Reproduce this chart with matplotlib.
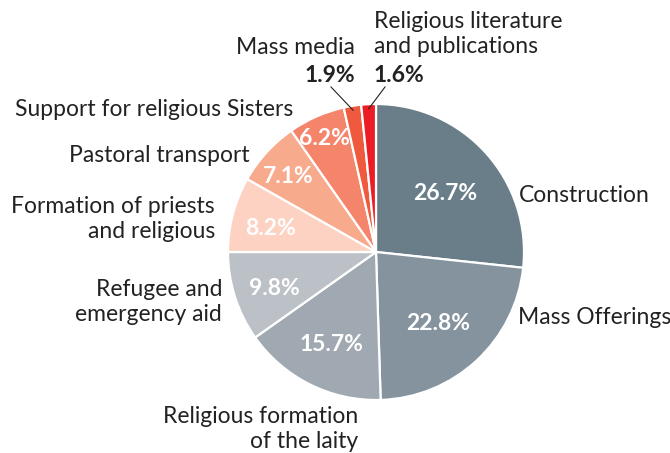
import matplotlib
matplotlib.use("Agg")
import numpy as np
from matplotlib import pyplot as plt

categories = ["Construction", "Mass Offerings", "Religious formation\nof the laity",
              "Refugee and\nemergency aid", "Formation of priests\nand religious",
              "Pastoral transport", "Support for religious Sisters", "Mass media",
              "Religious literature\nand publications"]
shares = [26.7, 22.8, 15.7, 9.8, 8.2, 7.1, 6.2, 1.9, 1.6]
colors = ["#6a7e8a", "#84939e", "#a0a9b1", "#bcc1c7", "#fdd2c2",
          "#f8aa8d", "#f4846a", "#ef5a3e", "#ec1c24"]

plt.rcParams['font.family'] = ['Lato', 'DejaVu Sans']

W, H = 670, 453
fig = plt.figure(figsize=(W / 100, H / 100), dpi=100)
ax = fig.add_axes([0, 0, 1, 1])

cx, cy, R = 376, H - 252, 148
wedges, _ = ax.pie(shares, colors=colors, startangle=90, counterclock=False,
                   center=(cx, cy), radius=R, frame=True,
                   wedgeprops=dict(edgecolor='white', linewidth=1.6))
ax.set_xlim(0, W)
ax.set_ylim(0, H)
ax.set_aspect('equal')
ax.axis('off')

dy = 4  # Lato sits a little high with va='center'

# percentages inside the bigger slices
pct_r = [0.63, 0.62, 0.67, 0.72, 0.74, 0.80, 0.87]
for w, s, f in zip(wedges, shares, pct_r):
    mid = np.deg2rad((w.theta1 + w.theta2) / 2)
    ax.text(cx + f * R * np.cos(mid), cy + f * R * np.sin(mid) - dy, f"{s}%",
            color='white', fontsize=16.5, fontweight='bold', ha='center', va='center')

lab = dict(fontsize=16.5, color='#222222', va='center', linespacing=1.2)
ax.text(519, H - 192 - dy, categories[0], ha='left', **lab)
ax.text(518, H - 314 - dy, categories[1], ha='left', **lab)
ax.text(358, H - 425 - dy, categories[2], ha='right', multialignment='right', **lab)
ax.text(222, H - 298 - dy, categories[3], ha='right', multialignment='right', **lab)
ax.text(215, H - 215 - dy, categories[4], ha='right', multialignment='right', **lab)
ax.text(250, H - 151 - dy, categories[5], ha='right', **lab)
ax.text(293, H - 106 - dy, categories[6], ha='right', **lab)
ax.text(355, H - 43 - dy, categories[7], ha='right', **lab)
ax.text(374, H - 30 - dy, categories[8], ha='left', multialignment='left', **lab)

ax.text(355, H - 72 - dy, f"{shares[7]}%", ha='right', va='center', fontsize=16.5,
        fontweight='bold', color='#222222')
ax.text(374, H - 72 - dy, f"{shares[8]}%", ha='left', va='center', fontsize=16.5,
        fontweight='bold', color='#222222')

# leader lines to the two thin slices
for w, x0 in zip(wedges[7:], [331, 385]):
    mid = np.deg2rad((w.theta1 + w.theta2) / 2)
    x1 = cx + 0.97 * R * np.cos(mid)
    y1 = cy + 0.97 * R * np.sin(mid)
    ax.plot([x0, x1], [H - 87, y1], color='#222222', lw=0.8)

fig.savefig("out.png", dpi=100)
